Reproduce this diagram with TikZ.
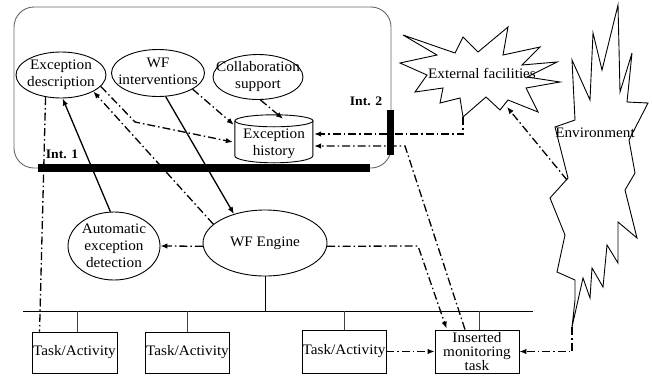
\documentclass[tikz,border=0pt]{standalone}
\usepackage{fontspec}
\setmainfont{Liberation Serif}[FakeStretch=1.05]
\usetikzlibrary{arrows.meta,calc,shapes.geometric}
\tikzset{
  ell/.style={draw, ellipse, line width=0.9pt, inner sep=0pt},
  lbl/.style={align=center, inner sep=0pt},
  box/.style={draw, rectangle, line width=0.9pt, inner sep=0pt, align=center},
  dd/.style={line width=1.3pt, dash pattern=on 8pt off 3pt on 1.5pt off 3pt},
  sol/.style={line width=1.3pt},
  arr/.style={-{Latex[length=7pt,width=5.5pt]}},
  bar/.style={fill=black, draw=none, inner sep=0pt},
  intlbl/.style={font=\fontsize{13}{15}\selectfont\bfseries, inner sep=0pt},
  thinl/.style={line width=0.9pt},
}
\begin{document}
\begin{tikzpicture}[x=1pt,y=-1pt,font=\fontsize{14.5}{17}\selectfont]
\useasboundingbox (0,0) rectangle (652,375);
% frame
\draw[rounded corners=20pt, draw=black!60, line width=0.9pt] (14,7) rectangle (391,168);
% ellipses
\node[ell, minimum width=90pt, minimum height=46pt, label={[lbl]center:Exception\\description}] (desc) at (61,75) {};
\node[ell, minimum width=93pt, minimum height=47pt, label={[lbl,yshift=2pt]center:WF\\interventions}] (wfi) at (158,73) {};
\node[ell, minimum width=90pt, minimum height=45pt, label={[lbl]center:Collaboration\\support}] (collab) at (258,77) {};
\node[ell, minimum width=92pt, minimum height=68pt, label={[lbl]center:Automatic\\exception\\detection}] (autodet) at (114,246) {};
\node[ell, minimum width=124pt, minimum height=66pt, label={[lbl]center:WF Engine}] (engine) at (265,243) {};
% history cylinder
\node[rectangle, inner sep=0pt, minimum width=78pt, minimum height=48pt, label={[lbl,yshift=-5pt]center:Exception\\history}] (hist) at (274,139) {};
\draw[thinl] (hist.north west) ++(0,6) coordinate (cl) -- ++(0,35) arc[start angle=180,end angle=360,x radius=39pt,y radius=7pt] -- ++(0,-35);
\draw[thinl] ($(hist.north)+(0,6)$) ellipse[x radius=39pt, y radius=6pt];
% tasks
\node[box, minimum width=85pt, minimum height=41pt] (t1) at (74.5,352.5) {Task/Activity};
\node[box, minimum width=84pt, minimum height=41pt] (t2) at (187.5,352.5) {Task/Activity};
\node[box, minimum width=84pt, minimum height=43pt] (t3) at (344,351.5) {Task/Activity};
\node[box, minimum width=84pt, minimum height=43pt, font=\fontsize{14.5}{14}\selectfont] (ins) at (477,351.5) {Inserted\\monitoring\\task};
% bus
\coordinate (busL) at (23,311);
\coordinate (busR) at (533,311);
\draw[thinl] (busL) -- (busR);
\draw[thinl] (engine.south) -- (engine.south |- busL);
\coordinate (s1) at ($(t1.north)+(3,0)$);
\coordinate (s4) at ($(ins.north)+(2,0)$);
\draw[thinl, draw=black!75] (s1) -- (s1 |- busL);
\draw[thinl, draw=black!75] (t2.north) -- (t2.north |- busL);
\draw[thinl, draw=black!75] (t3.north) -- (t3.north |- busL);
\draw[thinl, draw=black!75] (s4) -- (s4 |- busL);
% external facilities
\draw[thinl] (403,35) -- (455,53) -- (463,37) -- (478,52) -- (508,27) -- (503,55) -- (540,47) -- (522,65) -- (557,62) -- (527,77) -- (560,82) -- (526,88) -- (538,112) -- (508,100) -- (500,110) -- (486,97) -- (463,117) -- (460,98) -- (440,103) -- (443,88) -- (415,92) -- (427,75) -- (400,63) -- (437,55) -- cycle;
\node[inner sep=0pt] (ext) at (482,73) {External facilities};
\coordinate (extb) at (463,117);
\coordinate (extr) at (507,107);
% environment
\draw[thinl] (572,327) -- (575,300) -- (575,280) -- (557,272) -- (565,235) -- (550,198) -- (568,178) -- (555,127) -- (575,120) -- (572,60) -- (590,100) -- (593,33) -- (602,70) -- (618,5) -- (620,92) -- (632,53) -- (627,102) -- (648,103) -- (629,140) -- (635,173) -- (625,190) -- (637,238) -- (618,222) -- (618,263) -- (607,245) -- (603,287) -- (592,268) -- (590,298) -- (583,278) -- cycle;
\node[inner sep=0pt] (env) at (595,133) {Environment};
\coordinate (envb) at (572,327);
\coordinate (envl) at (567,180);
% connectors
\coordinate (h1) at ($(hist.east)+(1,-5)$);
\coordinate (h2) at ($(hist.east)+(1,7)$);
\draw[dd,arr] (desc.-16) -- (135,122) -- ($(hist.west)+(-2,3)$);
\draw[dd,arr] (wfi.-25) -- ($(hist.north west)+(-1,10)$);
\draw[sol,arr] (wfi.-72) -- (engine.137);
\draw[dd,arr] (collab.-84) -- ($(hist.north)+(9,4)$);
\draw[sol,arr] (autodet.96) -- (desc.-86);
\draw[dd,arr] (engine.183) -- (autodet.east);
\draw[dd,arr] (engine.160) -- (desc.-27);
\draw[dd] (desc.-125) -- ($(t1.north west)+(8,0)$);
\draw[dd,arr] (extb) |- (h1);
\draw[dd,arr] ($(ins.north)+(-12,0)$) -- (405,146) -- (h2);
\draw[dd,arr] (engine.-3) -- (418,246) -- ($(ins.north west)+(12,-1)$);
\draw[dd,arr] (t3.east) -- (ins.west);
\draw[dd,arr] (envb) |- (ins.east);
\draw[dd,arr] (envl) -- (extr);
% interfaces
\node[bar, minimum width=332pt, minimum height=8pt] (int1) at (204,168) {};
\node[bar, minimum width=7pt, minimum height=45pt] (int2) at (390.5,132.5) {};
\node[intlbl] (i1) at (62,154) {Int. 1};
\node[intlbl] (i2) at (366,101) {Int. 2};
\end{tikzpicture}
\end{document}
